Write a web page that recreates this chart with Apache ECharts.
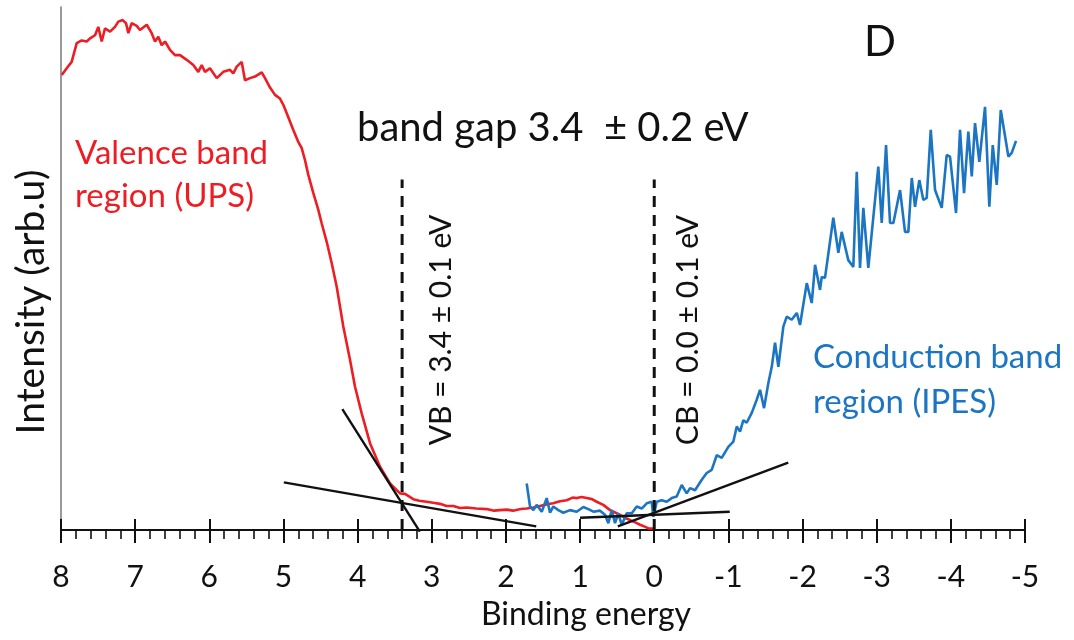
<!DOCTYPE html>
<html>
<head>
<meta charset="utf-8">
<script src="https://cdn.jsdelivr.net/npm/echarts@6/dist/echarts.min.js"></script>
<style>html,body{margin:0;padding:0;background:#fff;}#c{width:1074px;height:640px;}</style>
</head>
<body>
<div id="c"></div>
<script>
// ---- data (binding energy in eV, intensity in arbitrary units 0-100) ----
var xTicks = [8, 7, 6, 5, 4, 3, 2, 1, 0, -1, -2, -3, -4, -5];

var upsE = [7.99,7.923,7.856,7.788,7.721,7.653,7.609,7.541,7.497,7.451,7.407,7.339,7.272,7.227,7.168,7.123,7.092,7.047,6.979,6.935,6.844,6.777,6.732,6.688,6.642,6.597,6.530,6.463,6.395,6.305,6.216,6.148,6.103,6.058,5.991,5.900,5.811,5.721,5.676,5.630,5.563,5.519,5.451,5.384,5.293,5.249,5.181,5.114,5.047,5.002,4.956,4.912,4.867,4.800,4.754,4.709,4.665,4.597,4.530,4.484,4.417,4.349,4.282,4.237,4.193,4.102,4.035,3.945,3.833,3.698,3.563,3.428,3.361,3.249,3.168,3.068,2.980,2.889,2.800,2.709,2.620,2.529,2.400,2.259,2.160,2.080,1.990,1.904,1.800,1.720,1.630,1.540,1.450,1.365,1.270,1.180,1.100,1.045,0.980,0.910,0.840,0.776,0.687,0.596,0.520,0.461,0.390,0.326,0.250,0.191,0.120,0.080,0.012];
var upsI = [87.0,88.3,89.5,93.1,93.6,93.4,94.0,94.6,96.2,93.4,95.9,95.3,96.2,97.2,97.5,96.9,95.0,96.9,96.4,95.6,96.6,95.0,93.4,94.3,92.7,93.4,91.8,90.8,90.8,89.9,88.9,87.6,88.9,87.6,88.3,86.4,87.6,88.0,87.3,88.6,89.5,86.0,86.4,86.7,87.5,86.4,84.6,83.2,82.5,81.3,79.7,78.1,76.5,74.2,73.0,70.7,67.9,64.4,61.2,58.6,55.1,51.0,46.5,42.7,38.9,32.5,27.4,22.3,16.6,12.1,8.9,7.0,6.9,5.9,5.6,5.4,5.2,5.0,4.6,4.6,4.2,4.3,4.1,4.0,3.7,3.8,3.9,3.7,4.0,4.1,4.3,4.6,4.9,5.1,5.5,5.7,6.2,6.1,6.3,6.1,5.9,5.4,4.8,3.8,3.3,2.9,2.3,1.9,1.4,1.0,0.6,0.3,0.3];

var ipesE = [1.720,1.675,1.630,1.585,1.517,1.450,1.405,1.361,1.293,1.226,1.136,1.045,0.956,0.889,0.821,0.731,0.664,0.619,0.573,0.529,0.484,0.438,0.371,0.303,0.236,0.169,0.101,0.034,0.012,-0.034,-0.101,-0.169,-0.236,-0.303,-0.371,-0.438,-0.483,-0.550,-0.641,-0.708,-0.775,-0.843,-0.910,-0.999,-1.067,-1.113,-1.157,-1.202,-1.247,-1.315,-1.382,-1.427,-1.481,-1.539,-1.585,-1.629,-1.674,-1.741,-1.787,-1.854,-1.922,-1.966,-2.057,-2.124,-2.169,-2.236,-2.259,-2.303,-2.415,-2.483,-2.528,-2.617,-2.685,-2.731,-2.775,-2.820,-2.887,-3.022,-3.068,-3.126,-3.180,-3.225,-3.315,-3.382,-3.427,-3.473,-3.517,-3.575,-3.629,-3.675,-3.729,-3.787,-3.877,-3.944,-3.989,-4.070,-4.124,-4.178,-4.236,-4.282,-4.326,-4.384,-4.461,-4.519,-4.565,-4.619,-4.673,-4.776,-4.821,-4.879];
var ipesI = [8.9,4.5,3.8,4.8,3.5,6.1,3.3,4.5,3.8,3.3,3.8,3.5,4.4,4.0,3.5,3.7,2.9,1.3,3.8,1.3,3.2,1.0,3.2,3.2,4.5,4.1,5.1,5.4,2.5,5.4,5.7,5.4,6.1,6.4,8.6,7.0,8.0,7.6,9.6,10.9,11.5,14.3,13.8,15.9,16.9,19.8,18.8,21.0,20.5,22.4,24.9,26.8,23.3,28.1,31.2,35.8,31.2,38.9,40.8,40.2,41.5,39.2,47.2,43.4,50.7,45.9,48.4,48.2,59.7,53.0,57.0,51.6,50.3,68.5,50.1,61.6,50.1,69.5,58.7,73.6,58.7,58.7,65.0,57.0,57.0,67.3,61.8,66.9,63.1,63.5,76.5,65.0,61.6,71.7,71.4,60.6,76.5,64.4,76.2,67.6,77.8,70.4,80.9,61.8,73.6,66.0,80.3,71.4,72.1,74.4];

// tangent (fit) lines: [E, I] end points
var vbSteepFit = [[4.206, 23.1], [3.161, -0.3]];
var vbBaseFit = [[4.995, 9.1], [1.591, 0.7]];
var cbBaseFit = [[1.000, 2.35], [-1.018, 3.5]];
var cbRiseFit = [[0.491, 0.7], [-1.807, 12.9]];

// onset markers
var vbOnset = 3.4, cbOnset = 0.0, markerTop = 67;

function zip(a, b) { return a.map(function (v, i) { return [v, b[i]]; }); }

var chart = echarts.init(document.getElementById('c'), null, {renderer: 'canvas'});
var FONT = 'Lato, "Open Sans", sans-serif';
var RED = '#ee1d23', BLUE = '#1b75c2';

function fitLine(d) {
  return {type: 'line', data: d, symbol: 'none', clip: false, silent: true,
    lineStyle: {color: '#111', width: 2.4}, z: 4, animation: false};
}

var option = {
  animation: false,
  grid: {left: 61, right: 49, top: 7, bottom: 110, containLabel: false},
  xAxis: [{
    type: 'value', min: -5, max: 8, interval: 1, inverse: true,
    axisLine: {show: true, onZero: false, lineStyle: {color: '#111', width: 2}},
    axisTick: {show: true, inside: false, length: 13, lineStyle: {color: '#111', width: 2}},
    minorTick: {show: true, splitNumber: 5, length: 9, lineStyle: {color: '#111', width: 1.6}},
    splitLine: {show: false},
    axisLabel: {show: true, fontFamily: FONT, fontSize: 30, color: '#111', margin: 32,
      formatter: function (v) { return xTicks.indexOf(v) >= 0 ? String(v) : ''; }}
  }, {
    type: 'value', min: -5, max: 8, interval: 1, inverse: true, position: 'bottom',
    axisLine: {show: false, onZero: false},
    axisTick: {show: true, inside: true, length: 11, lineStyle: {color: '#111', width: 2}},
    axisLabel: {show: false}, splitLine: {show: false}
  }],
  yAxis: {
    type: 'value', min: 0, max: 100, position: 'left',
    axisLine: {show: true, onZero: false, lineStyle: {color: '#777', width: 1.5}},
    axisTick: {show: false}, axisLabel: {show: false}, splitLine: {show: false}
  },
  series: [
    {type: 'line', name: 'UPS', data: zip(upsE, upsI), symbol: 'none', z: 3,
      lineStyle: {color: RED, width: 2.6}},
    {type: 'line', name: 'IPES', data: zip(ipesE, ipesI), symbol: 'none', z: 3,
      lineStyle: {color: BLUE, width: 2.6}},
    fitLine(vbSteepFit), fitLine(vbBaseFit), fitLine(cbBaseFit), fitLine(cbRiseFit),
    {type: 'line', data: [[vbOnset, 0], [vbOnset, markerTop]], symbol: 'none', z: 4,
      lineStyle: {color: '#111', width: 3, type: [11, 8]}},
    {type: 'line', data: [[cbOnset, 0], [cbOnset, markerTop]], symbol: 'none', z: 4,
      lineStyle: {color: '#111', width: 3, type: [11, 8]}}
  ],
  graphic: [
    {type: 'text', x: 357, y: 128, style: {text: 'band gap 3.4  \u00b1 0.2 eV', font: '40px ' + FONT, fill: '#111', textAlign: 'left', textVerticalAlign: 'middle', align: 'left', verticalAlign: 'middle'}},
    {type: 'text', x: 880, y: 42, style: {text: 'D', font: '42px ' + FONT, fill: '#111', textAlign: 'center', textVerticalAlign: 'middle', align: 'center', verticalAlign: 'middle'}},
    {type: 'text', x: 75, y: 153, style: {text: 'Valence band', font: '33px ' + FONT, fill: RED, textAlign: 'left', textVerticalAlign: 'middle', align: 'left', verticalAlign: 'middle'}},
    {type: 'text', x: 75, y: 196, style: {text: 'region (UPS)', font: '33px ' + FONT, fill: RED, textAlign: 'left', textVerticalAlign: 'middle', align: 'left', verticalAlign: 'middle'}},
    {type: 'text', x: 813, y: 357, style: {text: 'Conduction band', font: '33px ' + FONT, fill: BLUE, textAlign: 'left', textVerticalAlign: 'middle', align: 'left', verticalAlign: 'middle'}},
    {type: 'text', x: 813, y: 402, style: {text: 'region (IPES)', font: '33px ' + FONT, fill: BLUE, textAlign: 'left', textVerticalAlign: 'middle', align: 'left', verticalAlign: 'middle'}},
    {type: 'text', x: 441, y: 330, rotation: Math.PI / 2, style: {text: 'VB = 3.4 \u00b1 0.1 eV', font: '30px ' + FONT, fill: '#111', textAlign: 'center', textVerticalAlign: 'middle', align: 'center', verticalAlign: 'middle'}},
    {type: 'text', x: 688, y: 330, rotation: Math.PI / 2, style: {text: 'CB = 0.0 \u00b1 0.1 eV', font: '30px ' + FONT, fill: '#111', textAlign: 'center', textVerticalAlign: 'middle', align: 'center', verticalAlign: 'middle'}},
    {type: 'text', x: 586, y: 615, style: {text: 'Binding energy', font: '32px ' + FONT, fill: '#111', textAlign: 'center', textVerticalAlign: 'middle', align: 'center', verticalAlign: 'middle'}},
    {type: 'text', x: 31, y: 302, rotation: Math.PI / 2, style: {text: 'Intensity (arb.u)', font: '39px ' + FONT, fill: '#111', textAlign: 'center', textVerticalAlign: 'middle', align: 'center', verticalAlign: 'middle'}}
  ]
};
chart.setOption(option);
</script>
</body>
</html>
